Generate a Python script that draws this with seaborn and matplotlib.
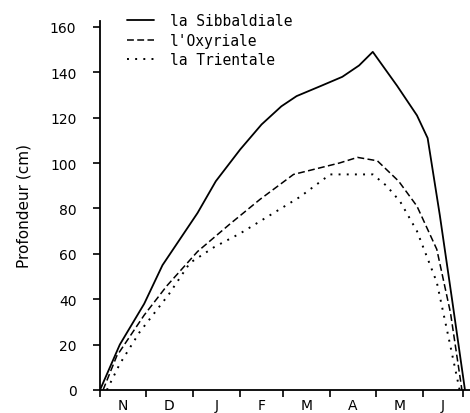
import numpy as np
import pandas as pd
import matplotlib
matplotlib.use('Agg')
import matplotlib.pyplot as plt
import seaborn as sns

# jours depuis le 1er novembre
sib_jour = [0, 13, 29, 41, 52, 64, 76, 92, 106, 119, 129, 145, 159, 170, 179, 195, 208, 215, 223, 231, 239.5]
sib_prof = [0, 20, 38, 55, 66, 78, 92, 106, 117, 125, 129.5, 134, 138, 143, 149, 134, 121, 111, 77, 40, 0]

oxy_jour = [2, 11, 29, 44, 64, 85, 105, 127, 157, 169, 182, 196, 208, 221, 230, 237.5]
oxy_prof = [0, 15, 33, 46, 61, 73, 84, 95, 100, 102.5, 101, 92, 81, 62, 34, 0]

tri_jour = [4.5, 13, 26, 45, 59, 75, 92, 131, 151, 179, 188, 197, 208, 221, 228, 236]
tri_prof = [0, 11.5, 25.5, 42, 56, 63, 69, 85, 95, 95, 90, 83, 70, 47.5, 25.5, 0]

mois = ['N', 'D', 'J', 'F', 'M', 'A', 'M', 'J']
limites_mois = [0, 30, 61, 92, 120, 151, 181, 212, 238]

sns.set_style('ticks')
plt.rcParams['font.family'] = ['DejaVu Sans']
for k in ['text.color', 'axes.labelcolor', 'xtick.color', 'ytick.color', 'axes.edgecolor']:
    plt.rcParams[k] = 'black'

fig = plt.figure(figsize=(4.7, 4.14), dpi=100)
ax = fig.add_axes([100 / 470, 23 / 414, 370 / 470, 369 / 414])

sns.lineplot(x=sib_jour, y=sib_prof, sort=False, color='black', lw=1.3,
             label='la Sibbaldiale', ax=ax)
sns.lineplot(x=oxy_jour, y=oxy_prof, sort=False, color='black', lw=1.1,
             linestyle=(0, (4.5, 2.2)), label="l'Oxyriale", ax=ax)
sns.lineplot(x=tri_jour, y=tri_prof, sort=False, color='black', lw=1.4,
             linestyle=(0, (1, 3.2)), label='la Trientale', ax=ax)

ax.set_xlim(0, 242.8)
ax.set_ylim(0, 162.6)
sns.despine(ax=ax)
for s in ['left', 'bottom']:
    ax.spines[s].set_linewidth(1.3)

ax.set_yticks(range(0, 161, 20))
ax.tick_params(axis='y', direction='out', length=5, width=1.2, pad=12, labelsize=10)

ax.set_xticks(limites_mois)
ax.set_xticklabels([])
ax.tick_params(axis='x', which='major', direction='out', length=5, width=1.2)
centres = [(a + b) / 2 for a, b in zip(limites_mois[:-1], limites_mois[1:])]
ax.set_xticks(centres, minor=True)
ax.set_xticklabels(mois, minor=True, fontsize=10)
ax.tick_params(axis='x', which='minor', length=0, pad=6)

ax.set_xlabel('')
ax.set_ylabel('Profondeur (cm)', fontsize=11, labelpad=13)

leg = ax.legend(loc='upper left', bbox_to_anchor=(120 / 470, 1 - 7 / 414),
                bbox_transform=fig.transFigure, frameon=False, borderpad=0,
                handlelength=1.8, handletextpad=1.1, labelspacing=0.3,
                prop={'family': 'DejaVu Sans Mono', 'size': 10.5})

fig.savefig('out.png', dpi=100)
